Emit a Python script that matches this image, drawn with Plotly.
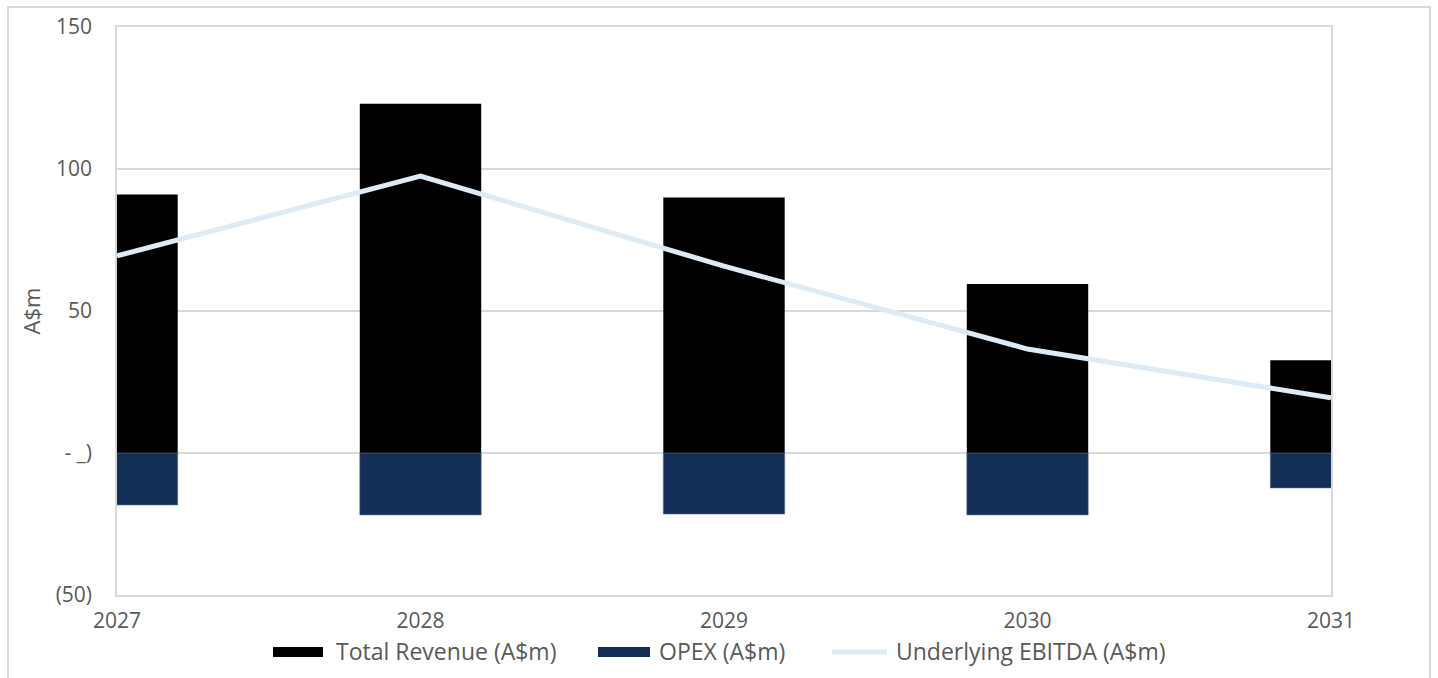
import plotly.graph_objects as go

years = [2027, 2028, 2029, 2030, 2031]
total_revenue = [91, 123, 90, 59.5, 32.7]
opex = [-18.3, -21.8, -21.5, -21.8, -12.3]
underlying_ebitda = [69.4, 97.5, 65.8, 36.6, 19.4]

y_tickvals = [150, 100, 50, 0, -50]
y_ticktext = ["150", "100", "50", "- _)", "(50)"]

FONT = "Open Sans, sans-serif"
TEXT = "#595959"
GRID = "#d9d9d9"
REV_COLOR = "#000000"
OPEX_COLOR = "#142f55"
LINE_COLOR = "#ddebf7"
FS = 21
LEG_FS = 23

W, H = 1438, 678
L, R, T, B = 117, 107, 27, 83
PW, PH = W - L - R, H - T - B


def px(x):
    return (x - L) / PW


def py(y):
    return (H - B - y) / PH


fig = go.Figure()
fig.add_trace(go.Bar(x=years, y=total_revenue, width=0.4, name="Total Revenue (A$m)",
                     marker=dict(color=REV_COLOR, line=dict(width=0))))
fig.add_trace(go.Bar(x=years, y=opex, width=0.4, name="OPEX (A$m)",
                     marker=dict(color=OPEX_COLOR, line=dict(color="#5a6f8e", width=0.6))))
fig.add_trace(go.Scatter(x=years, y=underlying_ebitda, mode="lines", name="Underlying EBITDA (A$m)",
                         line=dict(color=LINE_COLOR, width=5), cliponaxis=True))

fig.update_layout(
    width=W, height=H,
    margin=dict(l=L, r=R, t=T, b=B),
    barmode="relative",
    plot_bgcolor="white", paper_bgcolor="white",
    showlegend=False,
    font=dict(family=FONT, size=FS, color=TEXT),
)
fig.update_xaxes(
    range=[2027, 2031], tickvals=years, ticktext=[str(y) for y in years],
    showgrid=False, zeroline=False, showline=True, linecolor=GRID, linewidth=1.5, mirror=True,
    ticks="", ticklabelstandoff=6,
)
fig.update_yaxes(
    range=[-50, 150], tickvals=y_tickvals, ticktext=y_ticktext,
    showgrid=True, gridcolor=GRID, gridwidth=1.5,
    zeroline=True, zerolinecolor=GRID, zerolinewidth=1.5,
    showline=True, linecolor=GRID, linewidth=1.5, mirror=True,
    ticks="", ticklabelstandoff=19,
    title=dict(text="A$m", standoff=9, font=dict(size=22, color=TEXT)),
)

shapes = []
annotations = []
# outer frame
shapes.append(dict(type="rect", xref="paper", yref="paper",
                   x0=px(8), x1=px(1430), y0=py(690), y1=py(7),
                   line=dict(color="#d9d9d9", width=2), fillcolor="rgba(0,0,0,0)", layer="below"))

# legend
legend_items = [
    ("rect", REV_COLOR, 273, 323, 336, "Total Revenue (A$m)"),
    ("rect", OPEX_COLOR, 598, 650, 659, "OPEX (A$m)"),
    ("line", LINE_COLOR, 832, 887, 896, "Underlying EBITDA (A$m)"),
]
for kind, color, x0, x1, tx, label in legend_items:
    if kind == "rect":
        shapes.append(dict(type="rect", xref="paper", yref="paper",
                           x0=px(x0), x1=px(x1), y0=py(657), y1=py(647),
                           fillcolor=color, line=dict(width=0)))
    else:
        shapes.append(dict(type="line", xref="paper", yref="paper",
                           x0=px(x0), x1=px(x1), y0=py(652), y1=py(652),
                           line=dict(color=color, width=5)))
    annotations.append(dict(xref="paper", yref="paper", x=px(tx), y=py(651),
                            text=label, showarrow=False, xanchor="left", yanchor="middle",
                            xshift=-2, font=dict(family=FONT, size=LEG_FS, color=TEXT)))

fig.update_layout(shapes=shapes, annotations=annotations)
fig.write_html("out.html")
